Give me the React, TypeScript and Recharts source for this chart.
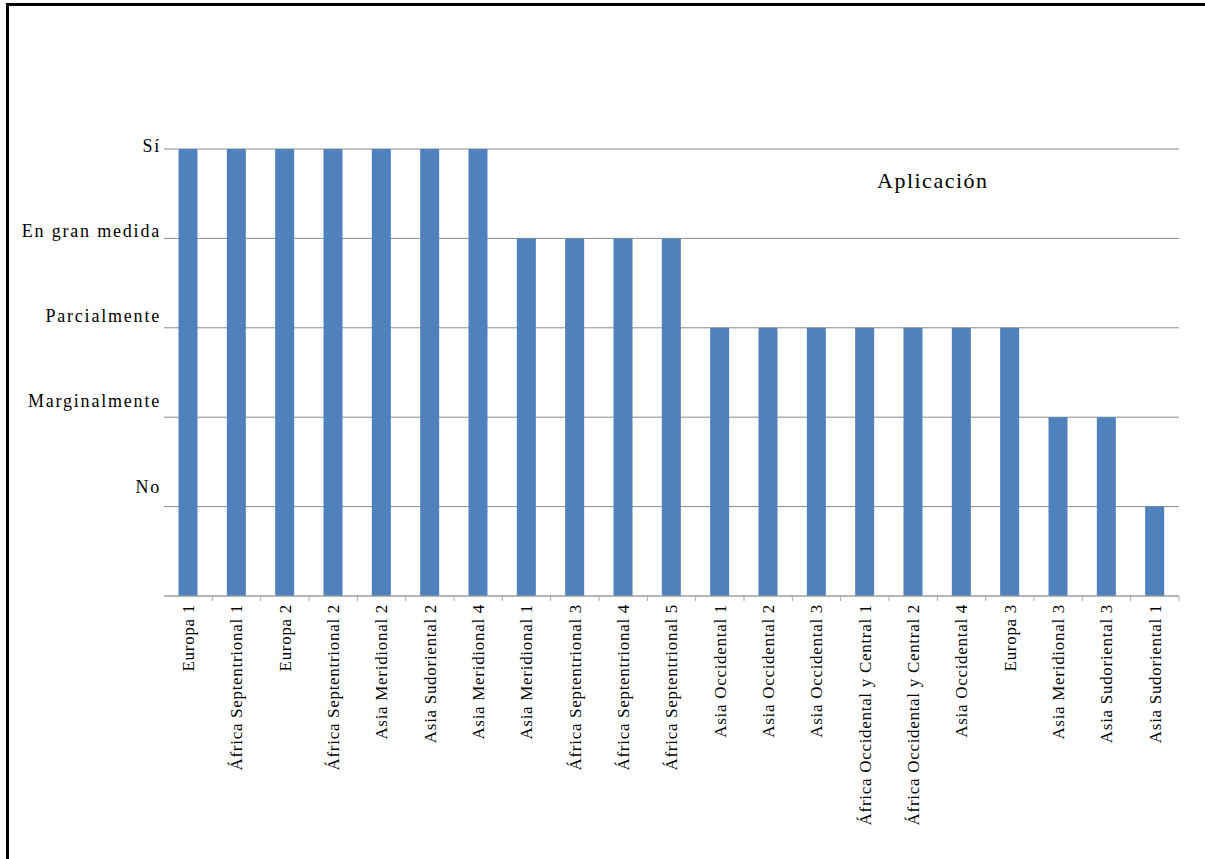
import { BarChart, Bar, XAxis, YAxis, CartesianGrid } from "recharts"

const regions = [
  "Europa 1",
  "África Septentrional 1",
  "Europa 2",
  "África Septentrional 2",
  "Asia Meridional 2",
  "Asia Sudoriental 2",
  "Asia Meridional 4",
  "Asia Meridional 1",
  "África Septentrional 3",
  "África Septentrional 4",
  "África Septentrional 5",
  "Asia Occidental 1",
  "Asia Occidental 2",
  "Asia Occidental 3",
  "África Occidental y Central 1",
  "África Occidental y Central 2",
  "Asia Occidental 4",
  "Europa 3",
  "Asia Meridional 3",
  "Asia Sudoriental 3",
  "Asia Sudoriental 1",
]

// 5 = Sí ... 1 = No
const aplicacion = [5, 5, 5, 5, 5, 5, 5, 4, 4, 4, 4, 3, 3, 3, 3, 3, 3, 3, 2, 2, 1]

const levelTicks = [1, 2, 3, 4, 5]
const levelLabels: Record<number, string> = {
  1: "No",
  2: "Marginalmente",
  3: "Parcialmente",
  4: "En gran medida",
  5: "Sí",
}

const data = regions.map((region, i) => ({ region, value: aplicacion[i] }))

const FONT = '"Liberation Serif", "Times New Roman", serif'

function YTick({ x, y, payload }: any) {
  const v = payload.value as number
  // labels sit a bit higher the lower the level, like the original text box
  const baseline = y + 3 - 4.25 * (5 - v)
  return (
    <text
      x={x + 5}
      y={baseline}
      textAnchor="end"
      fontFamily={FONT}
      fontSize={18}
      letterSpacing={1.8}
      fill="#000"
    >
      {levelLabels[v]}
    </text>
  )
}

function XTick({ x, y, payload }: any) {
  const half = payload.offset ?? 24.17
  return (
    <g>
      <line x1={x + half} x2={x + half} y1={y - 8} y2={y - 3} stroke="#a6a6a6" />
      <text
        x={x}
        y={y}
        dy="0.35em"
        textAnchor="end"
        transform={`rotate(-90, ${x}, ${y})`}
        fontFamily={FONT}
        fontSize={17}
        letterSpacing={0.7}
        fill="#000"
      >
        {payload.value}
      </text>
    </g>
  )
}

export default function App() {
  return (
    <div
      style={{
        position: "fixed",
        left: 0,
        top: 0,
        width: 1205,
        height: 859,
        overflow: "hidden",
        background: "#fff",
      }}
    >
      <div
        style={{
          position: "absolute",
          left: 6,
          top: 3,
          width: 1250,
          height: 900,
          borderLeft: "3px solid #000",
          borderTop: "3px solid #000",
        }}
      />
      <div style={{ position: "absolute", left: 0, top: 0 }}>
        <BarChart
          width={1205}
          height={859}
          data={data}
          margin={{ top: 149, right: 26, bottom: 0, left: 0 }}
          barCategoryGap="30%"
        >
          <CartesianGrid vertical={false} stroke="#8c8c8c" strokeWidth={1} />
          <XAxis
            dataKey="region"
            interval={0}
            height={263}
            axisLine={{ stroke: "#a6a6a6" }}
            tickLine={false}
            tick={<XTick />}
          />
          <YAxis
            type="number"
            domain={[0, 5]}
            ticks={levelTicks}
            width={164}
            axisLine={false}
            tickLine={false}
            tick={<YTick />}
          />
          <Bar dataKey="value" fill="#4f81bd" isAnimationActive={false} />
        </BarChart>
      </div>
      <div
        style={{
          position: "absolute",
          left: 877,
          top: 168,
          fontFamily: FONT,
          fontSize: 22,
          letterSpacing: 1.5,
          lineHeight: "25px",
          color: "#000",
        }}
      >
        Aplicación
      </div>
    </div>
  )
}
